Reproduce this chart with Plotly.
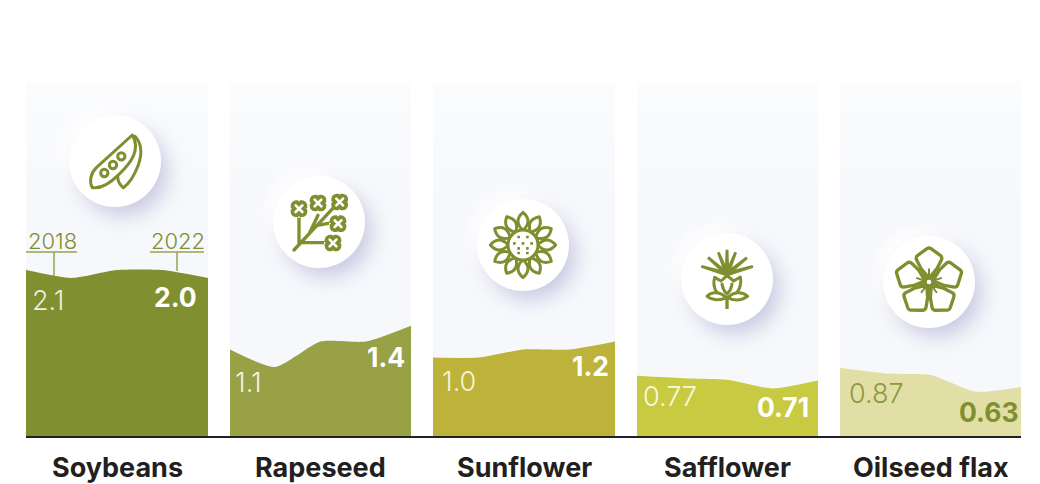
import base64, math
import plotly.graph_objects as go

W, H = 1040, 484
BASE_Y, TOP_Y = 437, 80
PX_PER_UNIT = 79.5

crops = ["Soybeans", "Rapeseed", "Sunflower", "Safflower", "Oilseed flax"]
years = [2018, 2019, 2020, 2021, 2022]
soybeans = [2.1, 2.0, 2.1, 2.1, 2.0]
rapeseed = [1.1, 0.88, 1.2, 1.2, 1.4]
sunflower = [1.0, 1.0, 1.1, 1.1, 1.2]
safflower = [0.77, 0.74, 0.72, 0.61, 0.71]
oilseed_flax = [0.87, 0.80, 0.78, 0.57, 0.63]
series = [soybeans, rapeseed, sunflower, safflower, oilseed_flax]
first_labels = ["2.1", "1.1", "1.0", "0.77", "0.87"]
last_labels = ["2.0", "1.4", "1.2", "0.71", "0.63"]

colors = ["#808f2f", "#98a146", "#bdb33a", "#c8ca42", "#e1dfa6"]
first_colors = ["#eef0de", "#f2f4e2", "#f7f4d6", "#f9f9de", "#8a9a3f"]
last_colors = ["#ffffff", "#ffffff", "#ffffff", "#ffffff", "#808f2f"]
panels = [(26, 208), (230, 411), (433, 615), (637, 818), (840, 1021)]
first_pos = [(30, 300), (233, 382), (440, 381), (641, 396), (847, 393)]
last_pos = [(199, 297), (407, 357), (611, 366), (811, 407), (1020, 412)]
circles = [(115, 161), (319, 222), (523, 245), (727, 279), (929, 282)]
GREEN = "#7f8f2f"
FONT = "Inter"


def px(x):
    return x / W


def py(y):
    return 1 - y / H


def flower_rape(x, y):
    return (f'<g transform="translate({x},{y})"><rect x="-25" y="-25" width="50" height="50" rx="16" fill="{GREEN}"/>'
            '<path d="M-10,-10L10,10M10,-10L-10,10" stroke="#fff" stroke-width="8" stroke-linecap="round"/>'
            '<path d="M-4,-27L0,-21L4,-27ZM-4,27L0,21L4,27ZM-27,-4L-21,0L-27,4ZM27,-4L21,0L27,4Z" fill="#fff"/></g>')


def icon_pod():
    return (f'<g fill="none" stroke="{GREEN}" stroke-width="9" stroke-linejoin="round" stroke-linecap="round">'
            '<path d="M52,-78L-56,20C-74,38 -78,62 -68,80C-40,84 -10,62 12,40C48,6 78,-34 52,-78Z"/>'
            '<path d="M60,-74C82,-50 82,-22 70,12C58,44 42,68 25,80C14,72 8,60 8,46"/>'
            '<circle cx="-32" cy="36" r="11"/><circle cx="-6" cy="12" r="11"/><circle cx="19" cy="-14" r="11"/></g>')


def icon_rape():
    lines = (f'<path d="M-75,84L50,-50M-60,66L-60,-15M-30,36L-3,-20M-5,10L40,2M-55,62L25,62" '
             f'fill="none" stroke="{GREEN}" stroke-width="10" stroke-linecap="round"/>')
    return (lines + flower_rape(-60, -40) + flower_rape(-3, -57) + flower_rape(62, -60)
            + flower_rape(57, 5) + flower_rape(42, 63))


def icon_sun():
    s = f'<g fill="#fff" stroke="{GREEN}" stroke-width="9" stroke-linejoin="round">'
    for k in range(12):
        s += f'<path transform="rotate({k * 30})" d="M0,-44 Q-30,-72 0,-98 Q30,-72 0,-44Z"/>'
    s += '<circle r="45"/></g>' + f'<g fill="{GREEN}">'
    for dy, xs in [(-24, (-13, 13)), (-5, (-26, 0, 26)), (24, (-13, 13))]:
        for dx in xs:
            s += f'<rect x="{dx-4}" y="{dy-4}" width="8" height="8" rx="1.5"/>'
    s += f'<rect x="-17" y="6" width="8" height="8" rx="1.5"/><rect x="9" y="6" width="8" height="8" rx="1.5"/>'
    return s + "</g>"


def icon_saff():
    s = f'<g fill="{GREEN}">'
    for tx, ty in [(0, -88), (-26, -80), (-57, -65), (-77, -38), (26, -80), (60, -64), (78, -38)]:
        ang = math.atan2(ty + 15, tx)
        nx, ny = -math.sin(ang) * 7, math.cos(ang) * 7
        s += f'<path d="M{-nx:.1f},{-15-ny:.1f}L{tx-nx*.6:.1f},{ty-ny*.6:.1f}L{tx+nx*.6:.1f},{ty+ny*.6:.1f}L{nx:.1f},{-15+ny:.1f}Z"/>'
    s += (f'</g><g fill="#fff" stroke="{GREEN}" stroke-width="9" stroke-linejoin="round" stroke-linecap="round">'
          '<path d="M-37,-5L-18,6L0,-10L20,6L40,-6C46,26 28,54 0,58C-28,54 -46,26 -37,-5Z"/>'
          '<path d="M-60,52C-45,36 -20,38 -2,56C-22,66 -45,64 -60,52Z"/>'
          '<path d="M62,52C45,36 20,38 2,56C22,66 45,64 62,52Z"/>'
          '<path d="M-15,15C-12,35 -5,40 0,45C5,40 12,35 15,15" fill="none"/>'
          f'</g><rect x="-5" y="50" width="10" height="40" fill="{GREEN}"/>')
    return s


def icon_flax():
    s = f'<g fill="#fff" stroke="{GREEN}" stroke-width="10" stroke-linejoin="round">'
    petal = ("M0,-12 L-24,-40 Q-26,-44 -28,-48 L-38,-68 Q-40,-76 -34,-80 L-6,-100 Q0,-104 6,-100 "
             "L34,-80 Q40,-76 38,-68 L28,-48 Q26,-44 24,-40 Z")
    for k in range(5):
        s += f'<path transform="rotate({k * 72})" d="{petal}"/>'
    s += f'</g><g stroke="{GREEN}" stroke-width="6" stroke-linecap="round">'
    for k in range(5):
        s += f'<path transform="rotate({k * 72})" d="M0,-12L0,-38"/>'
        s += f'<path transform="rotate({k * 72 + 36})" d="M0,-12L0,-30"/>'
    s += f'</g><circle r="10" fill="#fff" stroke="{GREEN}" stroke-width="6"/>'
    return s


icons = [icon_pod(), icon_rape(), icon_sun(), icon_saff(), icon_flax()]


def badge(icon):
    svg = ('<svg xmlns="http://www.w3.org/2000/svg" width="720" height="720" viewBox="0 0 720 720">'
           '<defs><filter id="b" x="-60%" y="-60%" width="220%" height="220%"><feGaussianBlur stdDeviation="30"/></filter>'
           '<filter id="w" x="-60%" y="-60%" width="220%" height="220%"><feGaussianBlur stdDeviation="18"/></filter></defs>'
           '<circle cx="336" cy="336" r="138" fill="#fff" opacity="0.9" filter="url(#w)"/>'
           '<circle cx="384" cy="390" r="134" fill="#b9bad9" opacity="0.75" filter="url(#b)"/>'
           '<circle cx="360" cy="360" r="138" fill="#fff"/>'
           f'<g transform="translate(360,360)">{icon}</g></svg>')
    return "data:image/svg+xml;base64," + base64.b64encode(svg.encode()).decode()


fig = go.Figure()
layout = {}
annotations, shapes, images = [], [], []
ymax = (BASE_Y - TOP_Y) / PX_PER_UNIT

for i, crop in enumerate(crops):
    n = "" if i == 0 else str(i + 1)
    x0, x1 = panels[i]
    layout[f"xaxis{n}"] = dict(domain=[px(x0), px(x1)], range=[years[0], years[-1]], visible=False, fixedrange=True)
    layout[f"yaxis{n}"] = dict(domain=[py(BASE_Y), py(TOP_Y)], range=[0, ymax], visible=False, fixedrange=True)
    fig.add_trace(go.Scatter(
        x=years, y=[ymax] * len(years), xaxis=f"x{n}", yaxis=f"y{n}", mode="lines", line=dict(width=0),
        fill="tozeroy", hoverinfo="skip",
        fillgradient=dict(type="vertical", colorscale=[[0, "#f7f8fb"], [0.66, "#f7f8fb"], [0.935, "#fafbfd"], [0.986, "#fcfcfe"], [1, "#ffffff"]]),
    ))
    fig.add_trace(go.Scatter(
        x=years, y=series[i], xaxis=f"x{n}", yaxis=f"y{n}", mode="lines",
        line=dict(width=0, shape="spline", smoothing=0.6), fill="tozeroy", fillcolor=colors[i],
        name=crop, hoverinfo="skip",
    ))
    annotations.append(dict(text=first_labels[i], xref="paper", yref="paper", x=px(first_pos[i][0]), y=py(first_pos[i][1]),
                            xanchor="left", yanchor="middle", showarrow=False,
                            font=dict(family=FONT, size=27, weight=300, color=first_colors[i])))
    annotations.append(dict(text=f"<b>{last_labels[i]}</b>", xref="paper", yref="paper", x=px(last_pos[i][0]), y=py(last_pos[i][1]),
                            xanchor="right", yanchor="middle", showarrow=False,
                            font=dict(family=FONT, size=26.5, color=last_colors[i])))
    annotations.append(dict(text=f"<b>{crop}</b>", xref="paper", yref="paper", x=px((x0 + x1) / 2), y=py(484),
                            xanchor="center", yanchor="bottom", showarrow=False, borderpad=0, borderwidth=0,
                            font=dict(family=FONT, size=27, color="#231f20")))
    cx, cy = circles[i]
    images.append(dict(source=badge(icons[i]), xref="paper", yref="paper", x=px(cx), y=py(cy),
                       sizex=240 / W, sizey=240 / H, xanchor="center", yanchor="middle",
                       sizing="stretch", layer="above"))

LEAD = "#95a356"
for (xa, xb, xv, ybot) in [(26, 77, 54, 276), (150, 204, 177, 271)]:
    shapes.append(dict(type="line", xref="paper", yref="paper", x0=px(xa), x1=px(xb), y0=py(252), y1=py(252),
                       line=dict(color=LEAD, width=1.5)))
    shapes.append(dict(type="line", xref="paper", yref="paper", x0=px(xv), x1=px(xv), y0=py(252), y1=py(ybot),
                       line=dict(color=LEAD, width=1.5)))
for text, xc in [("2018", 52), ("2022", 178)]:
    annotations.append(dict(text=text, xref="paper", yref="paper", x=px(xc), y=py(241), xanchor="center", yanchor="middle",
                            showarrow=False, font=dict(family=FONT, size=22, weight=300, color="#7f8f2f")))
shapes.append(dict(type="line", xref="paper", yref="paper", x0=px(26), x1=px(1021), y0=py(437), y1=py(437),
                   line=dict(color="#231f20", width=2)))

fig.update_layout(width=W, height=H, margin=dict(l=0, r=0, t=0, b=0), paper_bgcolor="#ffffff", plot_bgcolor="rgba(0,0,0,0)",
                  showlegend=False, annotations=annotations, shapes=shapes, images=images, **layout)
fig.write_html("out.html", config=dict(displayModeBar=False),
               post_script="document.body.style.margin='0';document.body.style.overflow='hidden';")
